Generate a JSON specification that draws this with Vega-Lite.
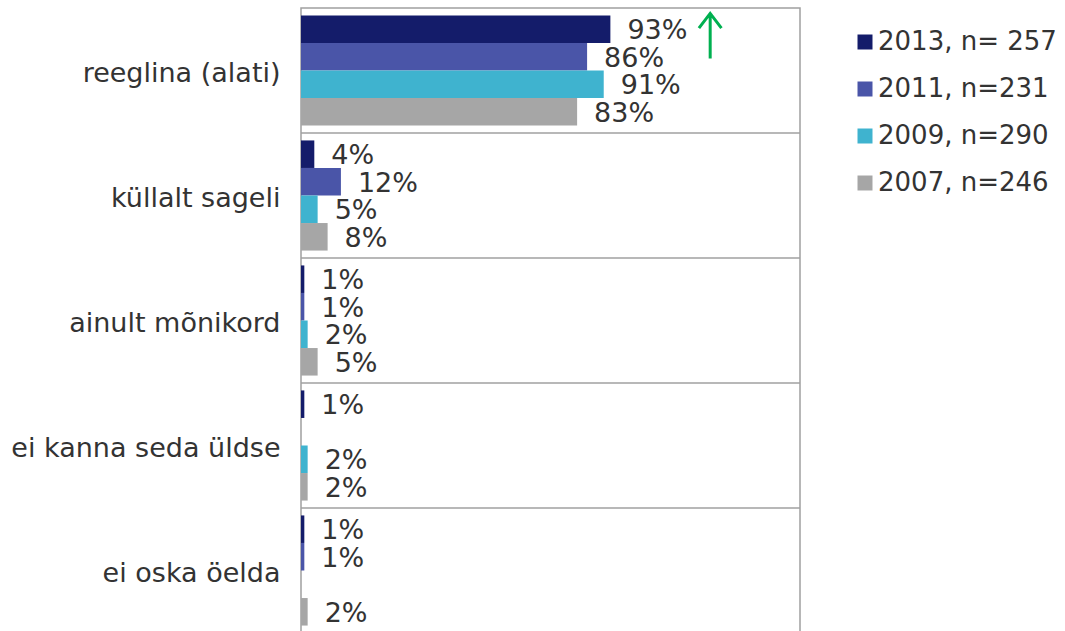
{
  "$schema": "https://vega.github.io/schema/vega-lite/v6.json",
  "width": 499,
  "height": 625,
  "autosize": "none",
  "padding": {"left": 301, "top": 8, "right": 265, "bottom": 0},
  "background": "white",
  "config": {
    "view": {"stroke": "#a0a0a0", "strokeWidth": 1.5},
    "font": "DejaVu Sans"
  },
  "data": {
    "values": [
      {"category": "reeglina (alati)", "series": "2013, n= 257", "value": 93, "label": "93%"},
      {"category": "reeglina (alati)", "series": "2011, n=231", "value": 86, "label": "86%"},
      {"category": "reeglina (alati)", "series": "2009, n=290", "value": 91, "label": "91%"},
      {"category": "reeglina (alati)", "series": "2007, n=246", "value": 83, "label": "83%"},
      {"category": "küllalt sageli", "series": "2013, n= 257", "value": 4, "label": "4%"},
      {"category": "küllalt sageli", "series": "2011, n=231", "value": 12, "label": "12%"},
      {"category": "küllalt sageli", "series": "2009, n=290", "value": 5, "label": "5%"},
      {"category": "küllalt sageli", "series": "2007, n=246", "value": 8, "label": "8%"},
      {"category": "ainult mõnikord", "series": "2013, n= 257", "value": 1, "label": "1%"},
      {"category": "ainult mõnikord", "series": "2011, n=231", "value": 1, "label": "1%"},
      {"category": "ainult mõnikord", "series": "2009, n=290", "value": 2, "label": "2%"},
      {"category": "ainult mõnikord", "series": "2007, n=246", "value": 5, "label": "5%"},
      {"category": "ei kanna seda üldse", "series": "2013, n= 257", "value": 1, "label": "1%"},
      {"category": "ei kanna seda üldse", "series": "2009, n=290", "value": 2, "label": "2%"},
      {"category": "ei kanna seda üldse", "series": "2007, n=246", "value": 2, "label": "2%"},
      {"category": "ei oska öelda", "series": "2013, n= 257", "value": 1, "label": "1%"},
      {"category": "ei oska öelda", "series": "2011, n=231", "value": 1, "label": "1%"},
      {"category": "ei oska öelda", "series": "2007, n=246", "value": 2, "label": "2%"}
    ]
  },
  "encoding": {
    "y": {
      "field": "category",
      "type": "nominal",
      "title": null,
      "scale": {
        "domain": ["reeglina (alati)", "küllalt sageli", "ainult mõnikord", "ei kanna seda üldse", "ei oska öelda"],
        "paddingInner": 0,
        "paddingOuter": 0
      },
      "axis": {
        "domain": false,
        "ticks": false,
        "labelFontSize": 27,
        "labelColor": "#333333",
        "labelPadding": 21,
        "labelOffset": 3,
        "labelLimit": 400
      }
    }
  },
  "layer": [
    {
      "mark": {"type": "bar"},
      "encoding": {
        "yOffset": {
          "field": "series",
          "type": "nominal",
          "scale": {
            "domain": ["2013, n= 257", "2011, n=231", "2009, n=290", "2007, n=246"],
            "paddingInner": 0,
            "paddingOuter": 0.27
          }
        },
        "x": {
          "field": "value",
          "type": "quantitative",
          "scale": {"domain": [0, 150], "nice": false, "zero": true},
          "axis": null
        },
        "color": {
          "field": "series",
          "type": "nominal",
          "scale": {
            "domain": ["2013, n= 257", "2011, n=231", "2009, n=290", "2007, n=246"],
            "range": ["#141c6a", "#4a55a8", "#3fb3cf", "#a6a6a6"]
          },
          "legend": {
            "title": null,
            "orient": "none",
            "legendX": 551,
            "legendY": 21,
            "symbolType": "square",
            "symbolSize": 225,
            "symbolStrokeWidth": 0,
            "labelFontSize": 26,
            "labelColor": "#333333",
            "labelOffset": 0,
            "rowPadding": 21,
            "labelLimit": 300
          }
        }
      }
    },
    {
      "mark": {"type": "text", "align": "left", "baseline": "middle", "dx": 17, "dy": 2, "fontSize": 27, "color": "#333333"},
      "encoding": {
        "yOffset": {
          "field": "series",
          "type": "nominal",
          "scale": {
            "domain": ["2013, n= 257", "2011, n=231", "2009, n=290", "2007, n=246"],
            "paddingInner": 0,
            "paddingOuter": 0.27
          }
        },
        "x": {"field": "value", "type": "quantitative"},
        "text": {"field": "label"}
      }
    },
    {
      "data": {"values": [
        {"category": "küllalt sageli"},
        {"category": "ainult mõnikord"},
        {"category": "ei kanna seda üldse"},
        {"category": "ei oska öelda"}
      ]},
      "mark": {"type": "rule", "color": "#a0a0a0", "strokeWidth": 1.5},
      "encoding": {
        "y": {"field": "category", "type": "nominal", "bandPosition": 0}
      }
    },
    {
      "data": {"values": [
        {"category": "reeglina (alati)", "series": "2013, n= 257", "value": 123}
      ]},
      "mark": {
        "type": "point",
        "shape": "M0,1.3 L0,-0.7 M-0.5,-0.05 L0,-0.7 L0.5,-0.05",
        "size": 2025,
        "filled": false,
        "stroke": "#00b050",
        "strokeWidth": 3,
        "opacity": 1
      },
      "encoding": {
        "yOffset": {
          "field": "series",
          "type": "nominal",
          "scale": {
            "domain": ["2013, n= 257", "2011, n=231", "2009, n=290", "2007, n=246"],
            "paddingInner": 0,
            "paddingOuter": 0.27
          }
        },
        "x": {"field": "value", "type": "quantitative"}
      }
    }
  ]
}
